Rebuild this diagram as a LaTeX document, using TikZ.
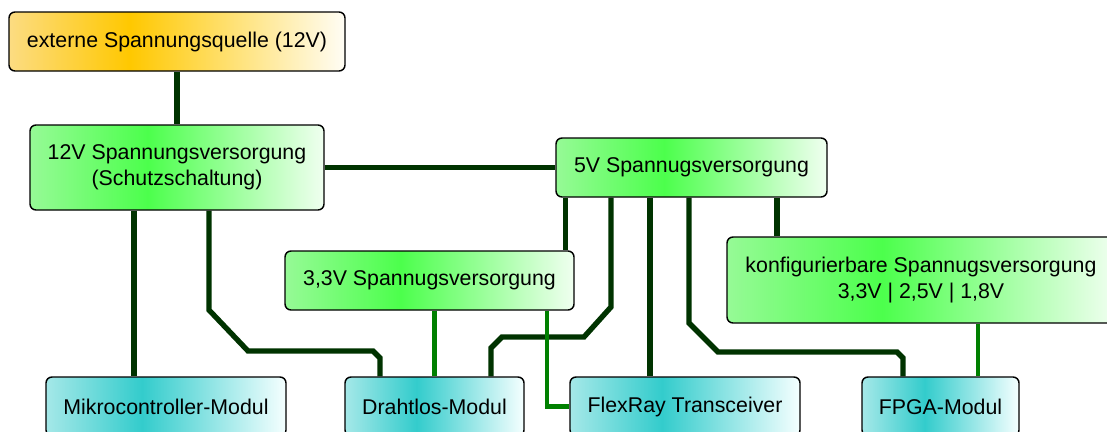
\documentclass[tikz,border=0pt]{standalone}
\usepackage{fontspec}
\setmainfont{Liberation Sans}
\usetikzlibrary{calc}
\usetikzlibrary{backgrounds}
\definecolor{busgreen}{RGB}{0,51,0}
\definecolor{railgreen}{RGB}{0,128,0}
\pgfdeclarehorizontalshading{extshade}{100bp}{color(0bp)=(rgb,255:red,252;green,220;blue,130); color(25bp)=(rgb,255:red,252;green,220;blue,130); color(43bp)=(rgb,255:red,255;green,200;blue,0); color(75bp)=(rgb,255:red,255;green,253;blue,245); color(100bp)=(rgb,255:red,255;green,253;blue,245)}
\pgfdeclarehorizontalshading{supshade}{100bp}{color(0bp)=(rgb,255:red,150;green,250;blue,150); color(25bp)=(rgb,255:red,150;green,250;blue,150); color(45bp)=(rgb,255:red,76;green,255;blue,76); color(75bp)=(rgb,255:red,240;green,255;blue,240); color(100bp)=(rgb,255:red,240;green,255;blue,240)}
\pgfdeclarehorizontalshading{modshade}{100bp}{color(0bp)=(rgb,255:red,165;green,232;blue,232); color(25bp)=(rgb,255:red,165;green,232;blue,232); color(45bp)=(rgb,255:red,51;green,204;blue,204); color(75bp)=(rgb,255:red,245;green,255;blue,255); color(100bp)=(rgb,255:red,245;green,255;blue,255)}
\tikzset{
  block/.style={draw=black, line width=1.1pt, rounded corners=4.5pt, inner sep=0pt, align=center, minimum height=44.25pt, font=\fontsize{16}{19.5}\selectfont},
  source/.style={block, shading=extshade},
  supply/.style={block, shading=supshade},
  module/.style={block, shading=modshade},
  bus/.style={draw=busgreen, line width=4pt},
  rail/.style={draw=railgreen, line width=3.4pt}
}

\begin{document}
\begin{tikzpicture}[x=0.75pt,y=-0.75pt]
        \useasboundingbox (0,0) rectangle (1107,432);
        \clip (0,0) rectangle (1107,432);
        % source and supplies
        \node[source, minimum width=252pt] (ext) at (177,41.5) {externe Spannungsquelle (12V)};
        \node[supply, minimum width=220.5pt, minimum height=63.75pt] (v12) at (177,167.5) {12V Spannungsversorgung\\(Schutzschaltung)};
        \node[supply, minimum width=203.25pt] (v5) at (691.5,167.5) {5V Spannugsversorgung};
        \node[supply, minimum width=216.75pt] (v33) at (429.5,280.5) {3,3V Spannugsversorgung};
        \node[supply, minimum width=291pt, minimum height=64.5pt] (konf) at (921,280) {konfigurierbare Spannugsversorgung\\3,3V | 2,5V | 1,8V};
        % modules
        \node[module, minimum width=180pt] (mikro) at (166,406.5) {Mikrocontroller-Modul};
        \node[module, minimum width=134.25pt] (draht) at (434.5,406.5) {Drahtlos-Modul};
        \node[module, minimum width=172.5pt] (flex) at (685,406.5) {FlexRay Transceiver};
        \node[module, minimum width=117.75pt] (fpga) at (940.5,406.5) {FPGA-Modul};
        \begin{pgfonlayer}{background}
        % 12V lines
        \draw[bus] (ext) -- (v12);
        \draw[bus] (v12) -- (v5);
        \draw[bus] ($(v12.south)+(-43,0)$) -- ($(mikro.north)+(-32,0)$);
        \draw[bus] ($(v12.south)+(32,0)$) -- (209,310) -- (248,351) -- (373,351) -- (380,358) -- ($(draht.north)+(-54.5,0)$);
        % 5V lines
        \draw[bus] ($(v5.south)+(-126,0)$) -- ($(v33.north)+(136,0)$);
        \draw[bus] ($(v5.south)+(-80.5,0)$) -- (611,307) -- (584,337) -- (502,337) -- (491,348) -- ($(draht.north)+(56.5,0)$);
        \draw[bus] ($(v5.south)+(-41.5,0)$) -- ($(flex.north)+(-35,0)$);
        \draw[bus] ($(v5.south)+(-2.5,0)$) -- (689,323) -- (718,352) -- (897,352) -- (903,358) -- ($(fpga.north)+(-37.5,0)$);
        \draw[bus] ($(v5.south)+(85.5,0)$) -- ($(konf.north)+(-144,0)$);
        % 3,3V and configurable lines
        \draw[rail] (v33.south -| draht.north) -- (draht.north);
        \draw[rail] ($(v33.south)+(117.5,0)$) |- (flex.west);
        \draw[rail] ($(konf.south)+(57,0)$) -- ($(fpga.north)+(37.5,0)$);
        \end{pgfonlayer}
    \end{tikzpicture}
\end{document}
